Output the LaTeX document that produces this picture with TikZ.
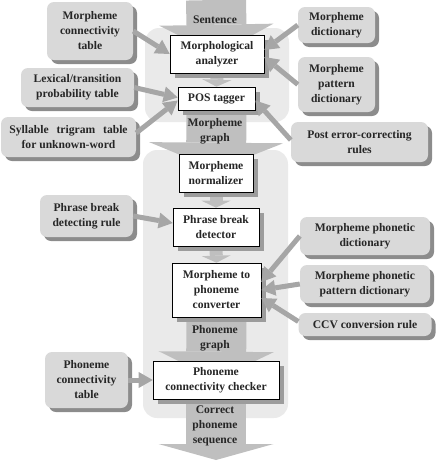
\documentclass[tikz,border=0pt]{standalone}
\usepackage{fontspec}
\setmainfont{Liberation Serif}
\usetikzlibrary{arrows.meta,shadows,calc}
\pgfdeclarelayer{bg}
\pgfsetlayers{bg,main}
\definecolor{panelc}{HTML}{EAEAEA}
\definecolor{srcfill}{HTML}{D9D9D9}
\definecolor{srcshadow}{HTML}{8C8C8C}
\definecolor{conn}{HTML}{A6A6A6}
\definecolor{bigc}{HTML}{BFBFBF}
\definecolor{procshadow}{HTML}{9C9C9C}
\tikzset{
  txt/.style={font=\bfseries\fontsize{11.6}{15}\selectfont, align=center, inner sep=0pt, text=black!85},
  src/.style={txt, fill=srcfill, rounded corners=7pt,
    drop shadow={shadow xshift=4pt, shadow yshift=-4pt, fill=srcshadow, opacity=1}},
  proc/.style={txt, fill=white, draw=black, line width=0.6pt,
    drop shadow={shadow xshift=5pt, shadow yshift=-5pt, fill=procshadow, opacity=1}},
  panel/.style={fill=panelc, rounded corners=14pt},
  feed/.style={draw=conn, line width=5pt, -{Triangle[length=14pt,width=16pt,line width=0pt]}},
  link/.style={draw=bigc, line width=13pt, -{Triangle[length=7pt,width=29pt,line width=0pt]}},
  big/.style={draw=bigc, line width=60pt},
}
\begin{document}
\begin{tikzpicture}[x=1pt,y=-1pt]
\useasboundingbox (0,0) rectangle (436,461);

% process boxes
\node[proc, minimum width=94pt, minimum height=38pt] (ma) at (217,54) {Morphological\\analyzer};
\node[proc, minimum width=77pt, minimum height=23pt] (pos) at (216.5,98.5) {POS tagger};
\node[proc, minimum width=74pt, minimum height=38pt] (mn) at (216,173) {Morpheme\\normalizer};
\node[proc, minimum width=86pt, minimum height=38pt] (pbd) at (216,227) {Phrase break\\detector};
\node[proc, minimum width=89pt, minimum height=54pt] (mpc) at (216.5,290) {Morpheme to\\phoneme\\converter};
\node[proc, minimum width=126pt, minimum height=38pt] (pcc) at (216,380) {Phoneme\\connectivity checker};

% source boxes
\node[src, minimum width=86pt, minimum height=58pt] (mct) at (90,31) {Morpheme\\connectivity\\table};
\node[src, minimum width=113pt, minimum height=39pt] (lpt) at (77.5,87.5) {Lexical/transition\\probability table};
\node[src, minimum width=135pt, minimum height=40pt] (stt) at (68.5,137) {Syllable\hspace{5pt} trigram\hspace{5pt} table\\for unknown-word};
\node[src, minimum width=93pt, minimum height=42pt] (prr) at (86.5,216) {Phrase break\\detecting rule};
\node[src, minimum width=83pt, minimum height=56pt] (pct) at (86.5,380) {Phoneme\\connectivity\\table};
\node[src, minimum width=77pt, minimum height=36pt] (md) at (336.5,25) {Morpheme\\dictionary};
\node[src, minimum width=77pt, minimum height=55pt] (mpd) at (336.5,84.5) {Morpheme\\pattern\\dictionary};
\node[src, minimum width=137pt, minimum height=40pt] (pecr) at (359.5,142) {Post error-correcting\\rules};
\node[src, minimum width=130pt, minimum height=38pt] (mphd) at (365,236) {Morpheme phonetic\\dictionary};
\node[src, minimum width=130pt, minimum height=38pt] (mppd) at (365,284) {Morpheme phonetic\\pattern dictionary};
\node[src, minimum width=133pt, minimum height=23pt] (ccv) at (365,324.5) {CCV conversion rule};

\coordinate (sTop) at (216,0);
\coordinate (outEnd) at (216,460);

\begin{pgfonlayer}{bg}
  \fill[panel] (145,28) rectangle (289,122);
  \fill[panel] (143,150) rectangle (288,418);
  \draw[big, -{Triangle[length=30pt,width=114pt,line width=0pt]}] (sTop) -- ([yshift=-20pt]ma.north);
  \draw[big, -{Triangle[length=27pt,width=134pt,line width=0pt]}] (pos.south) -- ([yshift=-16pt]mn.north);
  \draw[big, -{Triangle[length=28pt,width=115pt,line width=0pt]}] (mpc.south) -- ([yshift=-19pt]pcc.north);
  \draw[big, -{Triangle[length=16pt,width=115pt,line width=0pt]}] (pcc.south) -- (outEnd);
  \draw[link] (ma.south) -- (pos.north);
  \draw[link] (mn.south) -- (pbd.north);
  \draw[link] (pbd.south) -- (mpc.north);
\end{pgfonlayer}

% labels on big arrows
\node[txt] (lsent) at (215,20) {Sentence};
\node[txt] (lmg) at (215,131) {Morpheme\\graph};
\node[txt] (lpg) at (215,338) {Phoneme\\graph};
\node[txt] (lcps) at (215,426) {Correct\\phoneme\\sequence};

% feeding connectors
\draw[feed] (mct.east) -- (ma.west);
\draw[feed] (lpt.east) -- ([yshift=1pt]pos.west);
\draw[feed] ([yshift=4pt]stt.east) -- ([yshift=-2pt]pos.west);
\draw[feed] (md.west) -- ([yshift=4pt]ma.east);
\draw[feed] (mpd.west) -- ([yshift=-3pt]ma.east);
\draw[feed] ([yshift=2pt]pecr.west) -- ([yshift=-2pt]pos.east);
\draw[feed] (prr.east) -- ([yshift=4pt]pbd.west);
\draw[feed] (pct.east) -- (pcc.west);
\draw[feed] (mphd.west) -- ([yshift=8pt]mpc.east);
\draw[feed] (mppd.west) -- (mpc.east);
\draw[feed] ([yshift=3pt]ccv.west) -- ([yshift=-8pt]mpc.east);
\end{tikzpicture}
\end{document}
